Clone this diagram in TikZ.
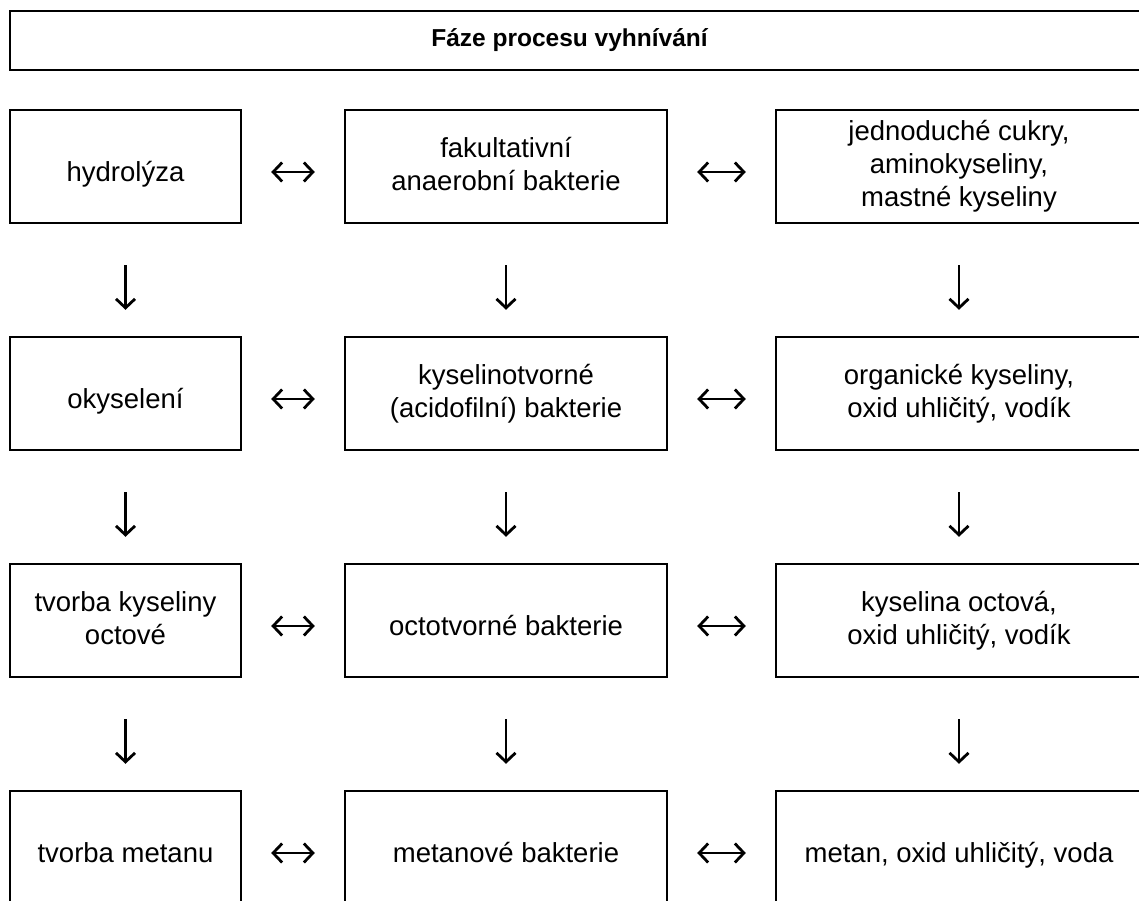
\documentclass[tikz,border=0pt]{standalone}
\usepackage{fontspec}
\setmainfont{Liberation Sans}
\usetikzlibrary{arrows.meta}

\begin{document}
\begin{tikzpicture}[
        x=1pt, y=-1pt,
        box/.style={
            draw,
            rectangle,
            line width=2.4pt,
            minimum height=113pt,
            inner sep=0pt,
            align=center,
            font=\fontsize{27.5}{33}\selectfont,
            execute at begin node={\rule[-5pt]{0pt}{40pt}}
        },
        phasebox/.style={box, minimum width=231pt},
        microbebox/.style={box, minimum width=322pt},
        productbox/.style={box, minimum width=366pt},
        titlebox/.style={draw, line width=2.4pt, minimum width=1140pt, minimum height=59pt},
        titletext/.style={xshift=-10.5pt, font=\fontsize{24.5}{29}\selectfont\bfseries},
        tip/.tip={Straight Barb[length=9pt,width=19pt]},
        both/.style={line width=2.8pt, tip-tip, shorten <=29pt, shorten >=29pt,
            transform canvas={yshift=-5.5pt}},
        down/.style={line width=2.8pt, -tip, shorten <=41pt, shorten >=26pt}
    ]
        \useasboundingbox (0,0) rectangle (1139,901);
        \clip (0,0) rectangle (1139,901);

        % Title
        \node[titlebox, label={[titletext]center:Fáze procesu vyhnívání}] (title) at (580,40.5) {};

        % Phases
        \node[phasebox] (hydro) at (125.5,166.5) {hydrolýza};
        \node[phasebox] (acid) at (125.5,393.5) {okyselení};
        \node[phasebox] (acet) at (125.5,620.5) {tvorba kyseliny\\octové};
        \node[phasebox] (meth) at (125.5,847.5) {tvorba metanu};

        % Bacteria
        \node[microbebox] (fakult) at (506,166.5) {fakultativní\\anaerobní bakterie};
        \node[microbebox] (acido) at (506,393.5) {kyselinotvorné\\(acidofilní) bakterie};
        \node[microbebox] (octo) at (506,620.5) {octotvorné bakterie};
        \node[microbebox] (metano) at (506,847.5) {metanové bakterie};

        % Products
        \node[productbox] (cukry) at (959,166.5) {jednoduché cukry,\\aminokyseliny,\\mastné kyseliny};
        \node[productbox] (organ) at (959,393.5) {organické kyseliny,\\oxid uhličitý, vodík};
        \node[productbox] (octova) at (959,620.5) {kyselina octová,\\oxid uhličitý, vodík};
        \node[productbox] (plyn) at (959,847.5) {metan, oxid uhličitý, voda};

        % Arrows between columns
        \draw[both] (hydro.east) -- (fakult.west);
        \draw[both] (fakult.east) -- (cukry.west);
        \draw[both] (acid.east) -- (acido.west);
        \draw[both] (acido.east) -- (organ.west);
        \draw[both] (acet.east) -- (octo.west);
        \draw[both] (octo.east) -- (octova.west);
        \draw[both] (meth.east) -- (metano.west);
        \draw[both] (metano.east) -- (plyn.west);

        % Arrows between rows
        \draw[down] (hydro.south) -- (acid.north);
        \draw[down] (acid.south) -- (acet.north);
        \draw[down] (acet.south) -- (meth.north);
        \draw[down] (fakult.south) -- (acido.north);
        \draw[down] (acido.south) -- (octo.north);
        \draw[down] (octo.south) -- (metano.north);
        \draw[down] (cukry.south) -- (organ.north);
        \draw[down] (organ.south) -- (octova.north);
        \draw[down] (octova.south) -- (plyn.north);

    \end{tikzpicture}
\end{document}
